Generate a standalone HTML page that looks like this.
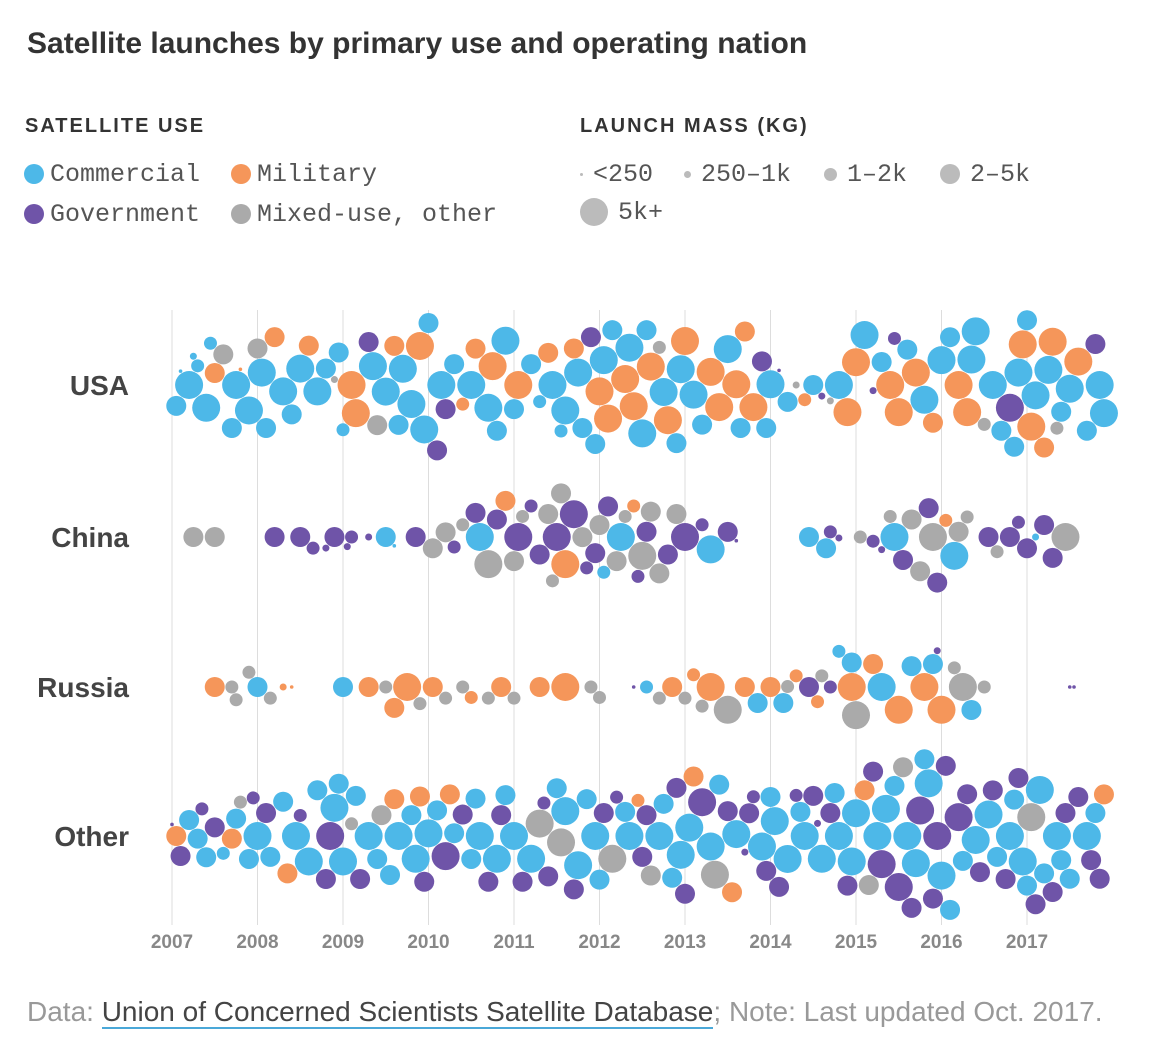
<!DOCTYPE html>
<html><head><meta charset="utf-8">
<style>
body{margin:0;background:#fff;width:1172px;height:1043px;overflow:hidden;font-family:"Liberation Sans",sans-serif;}
.t{position:absolute;left:27px;top:27px;font-size:30px;font-weight:bold;color:#333;}
.h{position:absolute;font-size:20px;font-weight:bold;color:#333;letter-spacing:2px;}
.li{position:absolute;font-family:"Liberation Mono",monospace;font-size:25px;color:#555;}
.dot{display:inline-block;border-radius:50%;vertical-align:middle;margin-right:6px;}
.foot{position:absolute;left:27px;top:996px;font-size:28px;color:#999;}
.foot span{color:#444;border-bottom:2px solid #4aa8d8;}
</style></head><body>
<div class="t">Satellite launches by primary use and operating nation</div>
<div class="h" style="left:25px;top:115px">SATELLITE USE</div>
<div class="h" style="left:580px;top:115px">LAUNCH MASS (KG)</div>
<div class="li" style="left:24px;top:160px"><span class="dot" style="width:20px;height:20px;background:#4db8e8"></span>Commercial</div>
<div class="li" style="left:231px;top:160px"><span class="dot" style="width:20px;height:20px;background:#f5965a"></span>Military</div>
<div class="li" style="left:24px;top:200px"><span class="dot" style="width:20px;height:20px;background:#6f54a8"></span>Government</div>
<div class="li" style="left:231px;top:200px"><span class="dot" style="width:20px;height:20px;background:#aaa"></span>Mixed-use, other</div>
<div class="li" style="left:580px;top:160px"><span class="dot" style="width:3px;height:3px;background:#bbb;margin-right:10px"></span>&lt;250</div>
<div class="li" style="left:684px;top:160px"><span class="dot" style="width:7px;height:7px;background:#bbb;margin-right:10px"></span>250–1k</div>
<div class="li" style="left:824px;top:160px"><span class="dot" style="width:13px;height:13px;background:#bbb;margin-right:10px"></span>1–2k</div>
<div class="li" style="left:940px;top:160px"><span class="dot" style="width:20px;height:20px;background:#bbb;margin-right:10px"></span>2–5k</div>
<div class="li" style="left:580px;top:198px"><span class="dot" style="width:28px;height:28px;background:#bbb;margin-right:10px"></span>5k+</div>
<svg id="chart" width="1172" height="1043" style="position:absolute;left:0;top:0"></svg>
<div class="foot">Data: <span>Union of Concerned Scientists Satellite Database</span>; Note: Last updated Oct. 2017.</div>
<script>
const years=[2007,2008,2009,2010,2011,2012,2013,2014,2015,2016,2017];
const countries=["USA","China","Russia","Other"];
const usaData="07.05C4 07.1C1 07.2C5 07.25C2 07.3C3 07.4C5 07.45C3 07.5M4 07.6O4 07.7C4 07.75C5 07.8M1 07.9C5 08.0O4 08.05C5 08.1C4 08.2M4 08.3C5 08.4C4 08.5C5 08.6M4 08.7C5 08.8C4 08.9O2 08.95C4 09.0C3 09.1M5 09.15M5 09.3G4 09.35C5 09.4O4 09.5C5 09.6M4 09.65C4 09.7C5 09.8C5 09.9M5 09.95C5 10.0C4 10.1G4 10.15C5 10.2G4 10.3C4 10.4M3 10.5C5 10.55M4 10.7C5 10.75M5 10.8C4 10.9C5 11.0C4 11.05M5 11.2C4 11.3C3 11.4M4 11.45C5 11.55C3 11.6C5 11.7M4 11.75C5 11.8C4 11.9G4 11.95C4 12.0M5 12.05C5 12.1M5 12.15C4 12.3M5 12.35C5 12.4M5 12.5C5 12.55C4 12.6M5 12.7O3 12.75C5 12.8M5 12.9C4 12.95C5 13.0M5 13.1C5 13.2C4 13.3M5 13.4M5 13.5C5 13.6M5 13.65C4 13.7M4 13.8M5 13.9G4 13.95C4 14.0C5 14.1G1 14.2C4 14.3O2 14.4M3 14.5C4 14.6G2 14.7O2 14.8C5 14.9M5 15.0M5 15.1C5 15.2G2 15.3C4 15.4M5 15.45G3 15.5M5 15.6C4 15.7M5 15.8C5 15.9M4 16.0C5 16.1C4 16.2M5 16.3M5 16.35C5 16.4C5 16.5O3 16.6C5 16.7C4 16.8G5 16.85C4 16.9C5 16.95M5 17.0C4 17.05M5 17.1C5 17.2M4 17.25C5 17.3M5 17.35O3 17.4C4 17.5C5 17.6M5 17.7C4 17.8G4 17.85C5 17.9C5".split(" ");
const chinaData="07.25O4 07.5O4 08.2G4 08.5G4 08.65G3 08.8G2 08.9G4 09.05G2 09.1G3 09.3G2 09.5C4 09.6C1 09.85G4 10.05O4 10.2O4 10.3G3 10.4O3 10.55G4 10.6C5 10.7O5 10.8G4 10.9M4 11.0O4 11.05G5 11.1O3 11.2G3 11.3G4 11.4O4 11.45O3 11.5G5 11.55O4 11.6M5 11.7G5 11.8O4 11.85G3 11.95G4 12.0O4 12.05C3 12.1G4 12.2O4 12.25C5 12.3O3 12.4M3 12.45G3 12.5O5 12.55G4 12.6O4 12.7O4 12.8G4 12.9O4 13.0G5 13.2G3 13.3C5 13.5G4 13.6G1 14.45C4 14.65C4 14.7G3 14.8G2 15.05O3 15.2G3 15.3G2 15.4O3 15.45C5 15.55G4 15.65O4 15.75O4 15.85G4 15.9O5 15.95G4 16.05M3 16.15C5 16.2O4 16.3O3 16.55G4 16.65O3 16.8G4 16.9G3 17.0G4 17.1C2 17.2G4 17.3G4 17.45O5".split(" ");
const russiaData="07.5M4 07.7O3 07.75O3 07.9O3 08.0C4 08.15O3 08.3M2 08.4M1 09.0C4 09.3M4 09.5O3 09.6M4 09.75M5 09.9O3 10.05M4 10.2O3 10.4O3 10.5M3 10.7O3 10.85M4 11.0O3 11.3M4 11.6M5 11.9O3 12.0O3 12.4G1 12.55C3 12.7O3 12.85M4 13.0O3 13.1M3 13.2O3 13.3M5 13.5O5 13.7M4 13.85C4 14.0M4 14.15C4 14.2O3 14.3M3 14.45G4 14.55M3 14.6O3 14.7G3 14.8C3 14.95C4 14.95M5 15.0O5 15.2M4 15.3C5 15.5M5 15.65C4 15.8M5 15.9C4 15.95G2 16.0M5 16.15O3 16.25O5 16.35C4 16.5O3 17.5G1 17.55G1".split(" ");
const otherData="07.0G1 07.05M4 07.1G4 07.2C4 07.3C4 07.35G3 07.4C4 07.5G4 07.6C3 07.7M4 07.75C4 07.8O3 07.9C4 07.95G3 08.0C5 08.1G4 08.15C4 08.3C4 08.35M4 08.45C5 08.5G3 08.6C5 08.7C4 08.8G4 08.85G5 08.9C5 08.95C4 09.0C5 09.1O3 09.15C4 09.2G4 09.3C5 09.4C4 09.45O4 09.55C4 09.6M4 09.65C5 09.8C4 09.85C5 09.9M4 09.95G4 10.0C5 10.1C4 10.2G5 10.25M4 10.3C4 10.4G4 10.5C4 10.55C4 10.6C5 10.7G4 10.8C5 10.85G4 10.9C4 11.0C5 11.1G4 11.2C5 11.3O5 11.35G3 11.4G4 11.5C4 11.55O5 11.6C5 11.7G4 11.75C5 11.85C4 11.95C5 12.0C4 12.05G4 12.15O5 12.2G3 12.3C4 12.35C5 12.45M3 12.5G4 12.55G4 12.6O4 12.7C5 12.75C4 12.85C4 12.9G4 12.95C5 13.0G4 13.05C5 13.1M4 13.2G5 13.3C5 13.35O5 13.4C4 13.5G4 13.55M4 13.6C5 13.7G2 13.75G4 13.8G3 13.9C5 13.95G4 14.0C4 14.05C5 14.1G4 14.2C5 14.3G3 14.35C4 14.4C5 14.5G4 14.55G2 14.6C5 14.7G4 14.75C4 14.8C5 14.9G4 14.95C5 15.0C5 15.1M4 15.15O4 15.2G4 15.25C5 15.3G5 15.35C5 15.45C4 15.5G5 15.55O4 15.6C5 15.65G4 15.7C5 15.75G5 15.8C4 15.85C5 15.9G4 15.95G5 16.0C5 16.05G4 16.1C4 16.2G5 16.25C4 16.3G4 16.4C5 16.45G4 16.55C5 16.6G4 16.65C4 16.75G4 16.8C5 16.85C4 16.9G4 16.95C5 17.0C4 17.05O5 17.1G4 17.15C5 17.2C4 17.3G4 17.35C5 17.4C4 17.45G4 17.5C4 17.6G4 17.7C5 17.75G4 17.8C4 17.85G4 17.9M4".split(" ");
const allData=[usaData,chinaData,russiaData,otherData];

const NS="http://www.w3.org/2000/svg";
const svg=document.getElementById("chart");
const colors={C:"#4db8e8",M:"#f5965a",G:"#6f54a8",O:"#aaaaaa"};
const radii={1:1.8,2:3.5,3:6.5,4:10,5:14};
const x=v=>172+(v-2007)*85.5;
const rowY=[385,537,687,836];
function mk(tag,attrs){const e=document.createElementNS(NS,tag);for(const k in attrs)e.setAttribute(k,attrs[k]);svg.appendChild(e);return e;}
years.forEach(yr=>{
  const l=mk("line",{x1:x(yr),x2:x(yr),y1:310,y2:925,stroke:"#ddd","stroke-width":1});
  
  
  const t=mk("text",{x:x(yr),y:948,"text-anchor":"middle","font-size":19,"font-weight":"bold",fill:"#888","font-family":"Liberation Sans, sans-serif"});
  t.textContent=yr;
  
  
});
countries.forEach((c,i)=>{
  const t=mk("text",{x:129,y:rowY[i]+10,"text-anchor":"end","font-size":28,"font-weight":"bold",fill:"#444","font-family":"Liberation Sans, sans-serif"});
  t.textContent=c;
  
  
  const pts=allData[i].map(s=>({v:2000+parseFloat(s.slice(0,-2)),u:s[s.length-2],m:+s[s.length-1]}));
  pts.forEach(p=>{p.cx=x(p.v);p.r=radii[p.m];});
  const order=pts.slice().sort((a,b)=>b.r-a.r||a.v-b.v);
  const placed=[];
  order.forEach(p=>{
    const cands=[0];
    placed.forEach(q=>{const d=p.r+q.r+0.5,dx=p.cx-q.cx;if(Math.abs(dx)<d){const h=Math.sqrt(d*d-dx*dx);cands.push(q.dy+h,q.dy-h);}});
    cands.sort((a,b)=>Math.abs(a)-Math.abs(b));
    for(const cy of cands){
      if(placed.every(q=>{const d=p.r+q.r+0.4;return (p.cx-q.cx)**2+(cy-q.dy)**2>=d*d-0.01;})){p.dy=cy;break;}
    }
    placed.push(p);
  });
  pts.forEach((p,j)=>{
    const e=mk("circle",{cx:p.cx,cy:rowY[i]+p.dy,r:p.r,fill:colors[p.u]});
    
    
  });
});
</script>
</body></html>
